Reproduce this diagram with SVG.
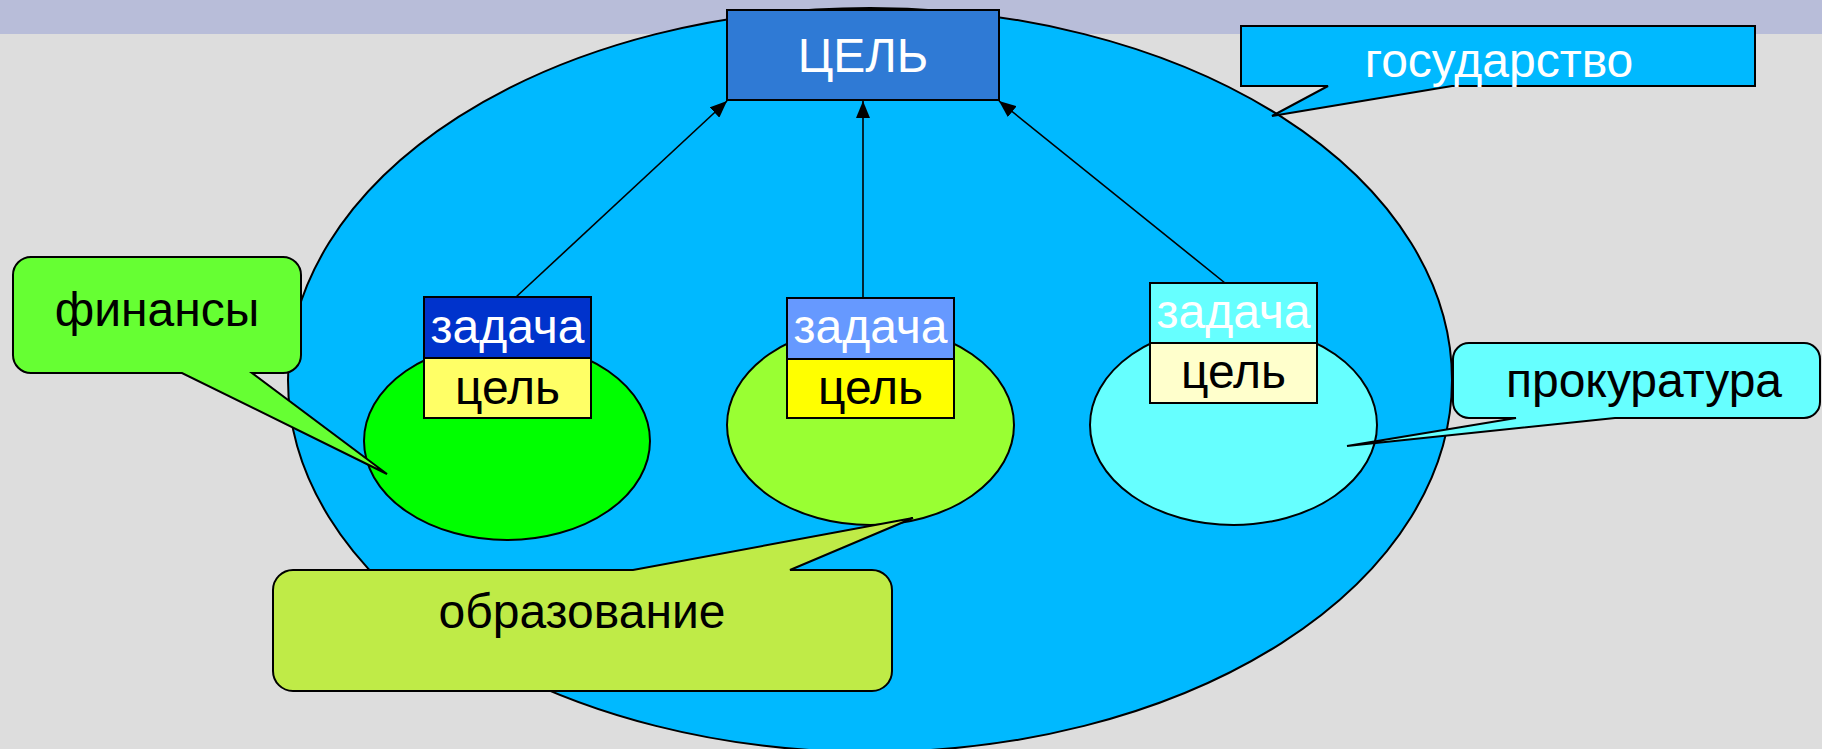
<svg xmlns="http://www.w3.org/2000/svg" width="1822" height="749" viewBox="0 0 1822 749">
<style>
  text { font-family: "Liberation Sans", Arial, sans-serif; font-size: 48px; text-anchor: middle; }
  .w { fill: #FFFFFF; }
  .k { fill: #000000; }
  .sh { stroke: #000000; stroke-width: 2; stroke-linejoin: miter; }
  .conn { stroke: #000000; stroke-width: 1.6; fill: none; }
</style>
<defs>
  <marker id="arr" markerUnits="userSpaceOnUse" markerWidth="18" markerHeight="14" refX="17" refY="7" orient="auto">
    <path d="M0,0 L17,7 L0,14 Z" fill="#000000"/>
  </marker>
</defs>
<rect x="0" y="0" width="1822" height="749" fill="#DDDDDD"/>
<rect x="0" y="0" width="1822" height="34" fill="#B8BDD9"/>

<g id="gosudarstvo-area">
  <ellipse cx="870" cy="380" rx="582" ry="372" fill="#00B9FF" class="sh"/>
</g>

<g id="tsel-main">
  <rect x="727" y="10" width="272" height="90" fill="#2F7AD5" class="sh"/>
  <text x="863" y="72" class="w">ЦЕЛЬ</text>
</g>

<g id="callout-gosudarstvo">
  <path d="M1241,26 H1755 V86 H1452 L1272,116 L1328,86 H1241 Z" fill="#00B9FF" class="sh"/>
  <text x="1499" y="77" class="w">государство</text>
</g>

<g id="connectors">
  <line x1="516" y1="297" x2="727" y2="101" class="conn" marker-end="url(#arr)"/>
  <line x1="863" y1="298" x2="863" y2="101" class="conn" marker-end="url(#arr)"/>
  <line x1="1225" y1="283" x2="999" y2="101" class="conn" marker-end="url(#arr)"/>
</g>

<g id="finance">
  <ellipse cx="507" cy="441" rx="143" ry="99" fill="#00FF00" class="sh"/>
  <rect x="424" y="297" width="167" height="61" fill="#0033CC" class="sh"/>
  <rect x="424" y="358" width="167" height="60" fill="#FFFF66" class="sh"/>
  <text x="507.5" y="343" class="w">задача</text>
  <text x="507.5" y="404" class="k">цель</text>
</g>

<g id="education">
  <ellipse cx="870.5" cy="425" rx="143.5" ry="100" fill="#99FF33" class="sh"/>
  <rect x="787" y="298" width="167" height="61" fill="#6699FF" class="sh"/>
  <rect x="787" y="359" width="167" height="59" fill="#FFFF00" class="sh"/>
  <text x="870.5" y="343" class="w">задача</text>
  <text x="870.5" y="404" class="k">цель</text>
</g>

<g id="prosecutor">
  <ellipse cx="1233.5" cy="425" rx="143.5" ry="100" fill="#66FFFF" class="sh"/>
  <rect x="1150" y="283" width="167" height="60" fill="#66FFFF" class="sh"/>
  <rect x="1150" y="343" width="167" height="60" fill="#FFFFCC" class="sh"/>
  <text x="1233.5" y="328" class="w">задача</text>
  <text x="1233.5" y="388" class="k">цель</text>
</g>

<g id="callout-finansy">
  <path d="M31,257 H283 A18,18 0 0 1 301,275 V355 A18,18 0 0 1 283,373 H252 L387,474 L182,373 H31 A18,18 0 0 1 13,355 V275 A18,18 0 0 1 31,257 Z" fill="#66FF33" class="sh"/>
  <text x="157" y="326" class="k">финансы</text>
</g>

<g id="callout-obrazovanie">
  <path d="M293,570 H633 L913,518 L790,570 H872 A20,20 0 0 1 892,590 V671 A20,20 0 0 1 872,691 H293 A20,20 0 0 1 273,671 V590 A20,20 0 0 1 293,570 Z" fill="#BFEB47" class="sh"/>
  <text x="582" y="628" class="k">образование</text>
</g>

<g id="callout-prokuratura">
  <path d="M1469,343 H1804 A16,16 0 0 1 1820,359 V402 A16,16 0 0 1 1804,418 H1615 L1347,446 L1516,418 H1469 A16,16 0 0 1 1453,402 V359 A16,16 0 0 1 1469,343 Z" fill="#66FFFF" class="sh"/>
  <text x="1644" y="397" class="k">прокуратура</text>
</g>
</svg>
